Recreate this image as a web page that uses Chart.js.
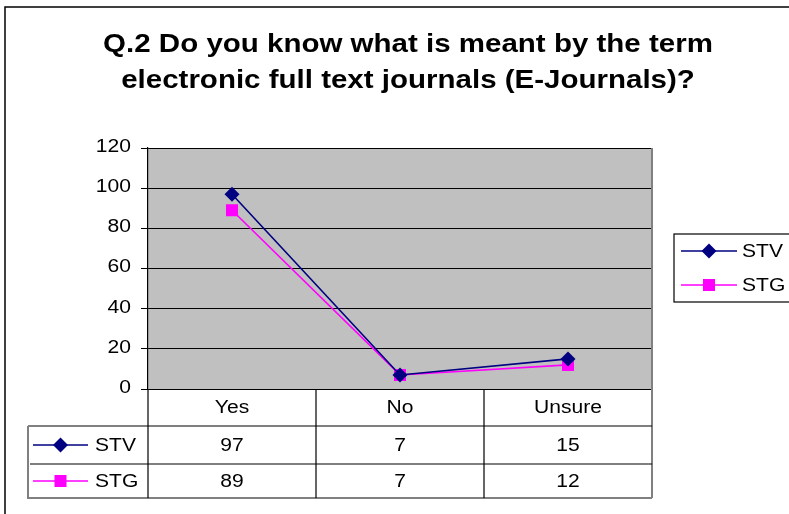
<!DOCTYPE html>
<html>
<head>
<meta charset="utf-8">
<script src="https://cdn.jsdelivr.net/npm/chart.js@4"></script>
<style>
html,body{margin:0;padding:0;background:#fff;}
#wrap{width:789px;height:514px;position:relative;}
</style>
</head>
<body>
<div id="wrap"><canvas id="c" width="789" height="514"></canvas></div>
<script>
const titleLines = ["Q.2 Do you know what is meant by the term", "electronic full text journals (E-Journals)?"];
const categories = ["Yes", "No", "Unsure"];
const seriesNames = ["STV", "STG"];
const stvValues = [97, 7, 15];
const stgValues = [89, 7, 12];
const yTicks = [0, 20, 40, 60, 80, 100, 120];

const FONT = "'Liberation Sans', Arial, sans-serif";
const STV_COLOR = "#000080";
const STG_COLOR = "#FF00FF";
const TEXT_FONT = "18px " + FONT;
const SX = 1.17;

function drawText(ctx, text, x, y, align, font, sx, baseline) {
  ctx.save();
  ctx.font = font;
  ctx.textAlign = align;
  ctx.textBaseline = baseline || 'middle';
  ctx.fillStyle = '#000';
  ctx.translate(x, y);
  ctx.scale(sx, 1);
  ctx.fillText(text, 0, 0);
  ctx.restore();
}

function drawMarker(ctx, style, x, y, color) {
  ctx.save();
  ctx.fillStyle = color;
  ctx.beginPath();
  if (style === 'rectRot') {
    const r = 7.5;
    ctx.moveTo(x, y - r); ctx.lineTo(x + r, y); ctx.lineTo(x, y + r); ctx.lineTo(x - r, y);
  } else {
    const r = 6;
    ctx.rect(x - r, y - r, 2 * r, 2 * r);
  }
  ctx.closePath();
  ctx.fill();
  ctx.restore();
}

function legendKey(ctx, x1, x2, y, style, color) {
  ctx.save();
  ctx.strokeStyle = color;
  ctx.lineWidth = 1.6;
  ctx.beginPath(); ctx.moveTo(x1, y); ctx.lineTo(x2, y); ctx.stroke();
  ctx.restore();
  drawMarker(ctx, style, (x1 + x2) / 2, y, color);
}

const decor = {
  id: 'decor',
  beforeDraw(chart) {
    const ctx = chart.ctx;
    const a = chart.chartArea;
    ctx.save();
    ctx.fillStyle = '#fff';
    ctx.fillRect(0, 0, chart.width, chart.height);
    // outer frame
    ctx.strokeStyle = '#000';
    ctx.lineWidth = 1.5;
    ctx.beginPath();
    ctx.moveTo(5, chart.height + 5); ctx.lineTo(5, 7); ctx.lineTo(chart.width + 5, 7);
    ctx.stroke();
    // plot background
    ctx.fillStyle = '#C0C0C0';
    ctx.fillRect(a.left, a.top, a.right - a.left, a.bottom - a.top);
    ctx.restore();
    // title
    const tf = "bold 25px " + FONT;
    drawText(ctx, titleLines[0], 408, 52, 'center', tf, 1.18, 'alphabetic');
    drawText(ctx, titleLines[1], 408, 88, 'center', tf, 1.18, 'alphabetic');
    // y tick labels
    const ys = chart.scales.y;
    yTicks.forEach(v => {
      drawText(ctx, String(v), 131, ys.getPixelForValue(v) - 1, 'right', TEXT_FONT, SX);
    });
  },
  afterDraw(chart) {
    const ctx = chart.ctx;
    const a = chart.chartArea;
    const xs = chart.scales.x;
    const rowTop = a.bottom, row1 = 426, row2 = 464, rowBot = 498, tLeft = 28;
    const colW = (a.right - a.left) / categories.length;
    ctx.save();
    // right border of plot + table
    ctx.strokeStyle = '#808080';
    ctx.lineWidth = 2;
    ctx.beginPath(); ctx.moveTo(a.right, a.top); ctx.lineTo(a.right, rowBot); ctx.stroke();
    // outer table border (gray)
    ctx.beginPath();
    ctx.moveTo(tLeft, row1); ctx.lineTo(tLeft, rowBot); ctx.lineTo(a.right, rowBot);
    ctx.moveTo(tLeft, row1); ctx.lineTo(a.left, row1);
    ctx.stroke();
    // inner lines black
    ctx.strokeStyle = '#000';
    ctx.lineWidth = 1.2;
    ctx.beginPath();
    ctx.moveTo(a.left, row1); ctx.lineTo(a.right, row1);
    ctx.moveTo(tLeft + 2, row2); ctx.lineTo(a.right, row2);
    ctx.moveTo(a.left, rowTop); ctx.lineTo(a.left, rowBot);
    for (let i = 1; i < categories.length; i++) {
      const x = a.left + colW * i;
      ctx.moveTo(x, rowTop); ctx.lineTo(x, rowBot);
    }
    ctx.stroke();
    ctx.restore();
    // texts
    categories.forEach((c, i) => {
      const x = xs.getPixelForValue(i);
      drawText(ctx, c, x, (rowTop + row1) / 2 + 1, 'center', TEXT_FONT, SX);
      drawText(ctx, String(stvValues[i]), x, (row1 + row2) / 2 + 1, 'center', TEXT_FONT, SX);
      drawText(ctx, String(stgValues[i]), x, (row2 + rowBot) / 2 + 1, 'center', TEXT_FONT, SX);
    });
    // table legend keys
    legendKey(ctx, 33, 88, (row1 + row2) / 2, 'rectRot', STV_COLOR);
    legendKey(ctx, 33, 88, (row2 + rowBot) / 2, 'rect', STG_COLOR);
    drawText(ctx, seriesNames[0], 95, (row1 + row2) / 2 + 1, 'left', TEXT_FONT, SX);
    drawText(ctx, seriesNames[1], 95, (row2 + rowBot) / 2 + 1, 'left', TEXT_FONT, SX);
    // right legend
    ctx.save();
    ctx.strokeStyle = '#000';
    ctx.lineWidth = 1.2;
    ctx.strokeRect(674, 234, 140, 68);
    ctx.restore();
    legendKey(ctx, 681, 737, 251, 'rectRot', STV_COLOR);
    legendKey(ctx, 681, 737, 285, 'rect', STG_COLOR);
    drawText(ctx, seriesNames[0], 742, 252, 'left', TEXT_FONT, SX);
    drawText(ctx, seriesNames[1], 742, 286, 'left', TEXT_FONT, SX);
  }
};

new Chart(document.getElementById('c'), {
  type: 'line',
  data: {
    labels: categories,
    datasets: [
      {
        label: seriesNames[0], data: stvValues,
        borderColor: STV_COLOR, backgroundColor: STV_COLOR,
        borderWidth: 1.6, pointStyle: 'rectRot', pointRadius: 7.5, pointHoverRadius: 7.5,
        pointBorderWidth: 0, tension: 0
      },
      {
        label: seriesNames[1], data: stgValues,
        borderColor: STG_COLOR, backgroundColor: STG_COLOR,
        borderWidth: 1.6, pointStyle: 'rect', pointRadius: 8.5, pointHoverRadius: 8.5,
        pointBorderWidth: 0, tension: 0
      }
    ]
  },
  options: {
    responsive: false,
    animation: false,
    events: [],
    layout: { padding: { left: 0, top: 148, right: 137, bottom: 125 } },
    plugins: { legend: { display: false }, title: { display: false }, tooltip: { enabled: false } },
    scales: {
      x: { type: 'category', display: false, offset: true },
      y: {
        min: 0, max: 120,
        afterFit: s => { s.width = 148; },
        afterBuildTicks: s => { s.ticks = yTicks.map(v => ({ value: v })); },
        ticks: { display: false },
        grid: { color: '#000', lineWidth: 1, tickLength: 7, drawTicks: true },
        border: { color: '#000', width: 1.2 }
      }
    }
  },
  plugins: [decor]
});
</script>
</body>
</html>
